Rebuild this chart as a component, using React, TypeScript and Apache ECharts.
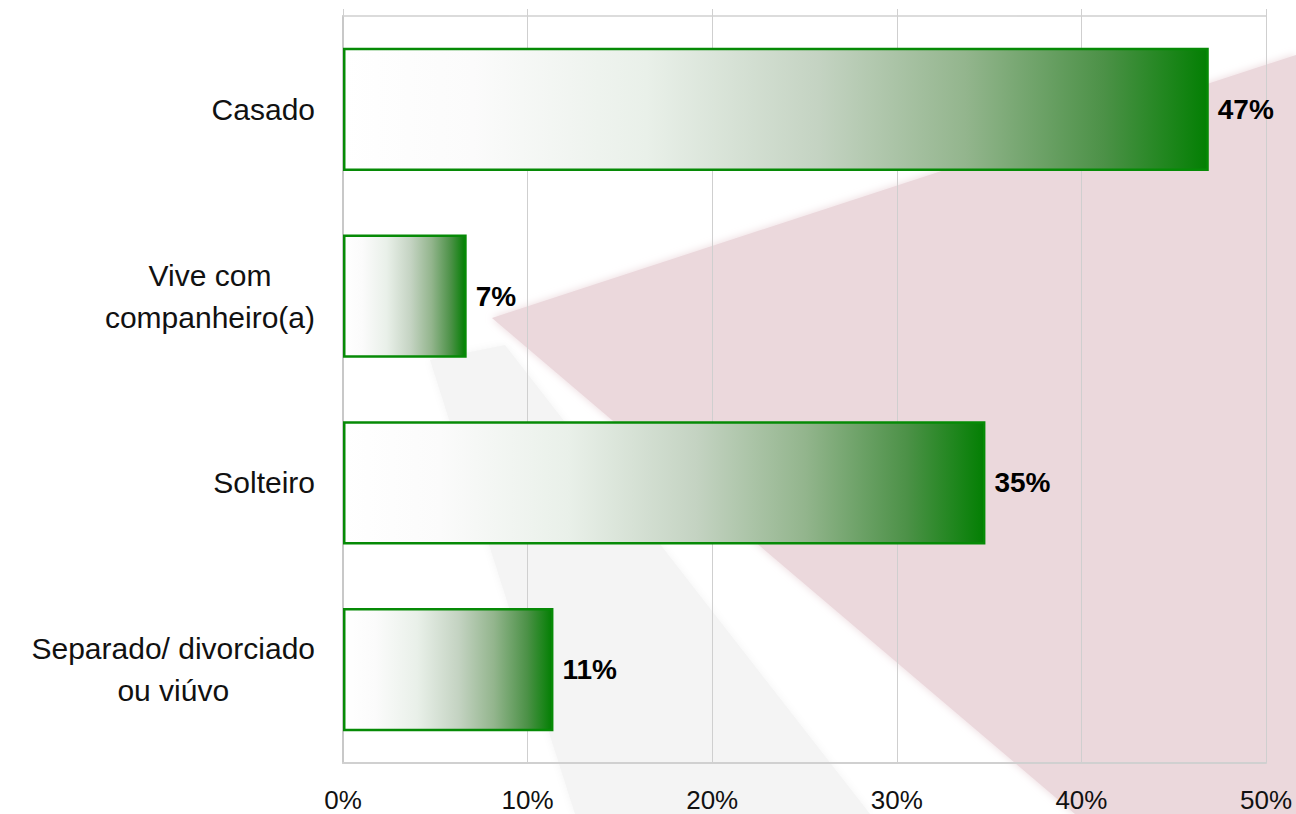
import React, { useEffect, useRef } from "react";
import * as echarts from "echarts";

const categories = [
  "Casado",
  "Vive com\ncompanheiro(a)",
  "Solteiro",
  "Separado/ divorciado\nou viúvo",
];
const values = [46.9, 6.7, 34.8, 11.4];
const xTicks = { min: 0, max: 50, interval: 10 };

const FONT = "'Liberation Sans', Arial, sans-serif";

export default function App() {
  const ref = useRef<HTMLDivElement>(null);
  useEffect(() => {
    if (!ref.current) return;
    const chart = echarts.init(ref.current, undefined, { renderer: "svg" });
    const barGradient = new echarts.graphic.LinearGradient(0, 0, 1, 0, [
      { offset: 0, color: "#ffffff" },
      { offset: 0.15, color: "#fbfbfb" },
      { offset: 0.35, color: "#e9f0e9" },
      { offset: 0.55, color: "#c4d3c2" },
      { offset: 0.72, color: "#93b58d" },
      { offset: 0.88, color: "#4c9147" },
      { offset: 1, color: "#037f03" },
    ]);
    chart.setOption({
      animation: false,
      backgroundColor: "#ffffff",
      grid: { left: 343, right: 30, top: 16, bottom: 51, containLabel: false },
      xAxis: [
        {
          type: "value",
          position: "bottom",
          z: 10,
          min: xTicks.min,
          max: xTicks.max,
          interval: xTicks.interval,
          axisLine: { show: true, lineStyle: { color: "#d0d0d0", width: 2 } },
          axisTick: { show: false },
          splitLine: { show: true, lineStyle: { color: "#cfcfcf", width: 1 } },
          axisLabel: {
            formatter: (v: number) => `${v}%`,
            fontFamily: FONT,
            fontSize: 26,
            color: "#111111",
            margin: 24,
          },
        },
        {
          type: "value",
          position: "top",
          z: 10,
          min: xTicks.min,
          max: xTicks.max,
          interval: xTicks.interval,
          axisLine: { show: true, lineStyle: { color: "#d0d0d0", width: 1.5 } },
          axisTick: { show: true, length: 7, lineStyle: { color: "#d0d0d0" } },
          splitLine: { show: false },
          axisLabel: { show: false },
        },
      ],
      yAxis: {
        type: "category",
        z: 10,
        data: categories,
        inverse: true,
        axisLine: { show: true, lineStyle: { color: "#c8c8c8", width: 2 } },
        axisTick: { show: false },
        axisLabel: {
          margin: 28,
          formatter: (v: string) =>
            v
              .split("\n")
              .map((s) => `{c|${s}}`)
              .join("\n"),
          rich: {
            c: {
              fontFamily: FONT,
              fontSize: 30,
              color: "#111111",
              lineHeight: 42,
              align: "center",
            },
          },
        },
      },
      series: [
        {
          type: "custom",
          coordinateSystem: "none",
          z: 0,
          silent: true,
          data: [0],
          renderItem: () => ({
            type: "group",
            children: [
              {
                type: "polygon",
                shape: {
                  points: [
                    [430, 360],
                    [505, 345],
                    [870, 814],
                    [575, 814],
                  ],
                },
                style: { fill: "#f4f4f4", shadowBlur: 8, shadowColor: "#f4f4f4" },
              },
              {
                type: "polygon",
                shape: {
                  points: [
                    [492, 318],
                    [1296, 55],
                    [1296, 814],
                    [1075, 814],
                  ],
                },
                style: { fill: "#ebd8dc", shadowBlur: 8, shadowColor: "#ebd8dc" },
              },
            ],
          }),
        },
        {
          type: "bar",
          z: 20,
          data: values,
          barCategoryGap: "34%",
          itemStyle: {
            color: barGradient,
            borderColor: "#068a06",
            borderWidth: 2.5,
          },
          label: {
            show: true,
            position: "right",
            distance: 9,
            formatter: (p: any) => `${Math.round(p.value)}%`,
            fontFamily: FONT,
            fontSize: 28,
            fontWeight: "bold",
            color: "#000000",
          },
        },
      ],
    });
    return () => chart.dispose();
  }, []);
  return (
    <div
      ref={ref}
      style={{ position: "fixed", left: 0, top: 0, width: 1296, height: 814 }}
    />
  );
}
